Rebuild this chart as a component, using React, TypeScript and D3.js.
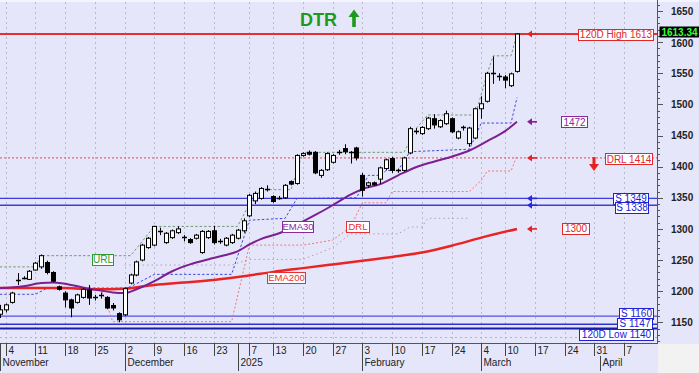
import React from 'react';
import * as d3 from 'd3';

const width = 699;
const height = 373;
const plotRight = 657;
const plotTop = 2;
const plotBottom = 343;
const font = 'Liberation Sans, Arial, sans-serif';

// one slot per trading day, slot 0 = 4 Nov, first candle sits on slot -1
const firstSlot = -1;
const opens = [1163, 1170, 1182, 1218, 1221, 1219, 1234, 1239, 1246, 1230, 1207, 1197, 1186, 1182, 1190, 1202, 1191, 1194, 1190, 1177, 1164,
  1162, 1213, 1226, 1250, 1270, 1274, 1297, 1278, 1286, 1294, 1287, 1283, 1285, 1262, 1286, 1297, 1281, 1274, 1278, 1285,
  1297, 1321, 1345, 1349, 1364, 1352, 1350, 1350, 1376, 1373, 1418, 1423, 1423, 1386, 1395, 1407, 1423, 1429, 1423, 1430,
  1386, 1370, 1374, 1380, 1397, 1413, 1394, 1394, 1422, 1458, 1453, 1461, 1477, 1464, 1469, 1477, 1446, 1463, 1437, 1446,
  1493, 1505, 1550, 1546, 1544, 1530, 1553];
const highs = [1178, 1180, 1199, 1229, 1224, 1234, 1247, 1259, 1249, 1232, 1209, 1200, 1188, 1196, 1205, 1210, 1194, 1198, 1192, 1181, 1166,
  1206, 1228, 1249, 1276, 1287, 1305, 1302, 1295, 1299, 1304, 1290, 1285, 1292, 1298, 1298, 1305, 1284, 1287, 1292, 1300,
  1317, 1356, 1360, 1367, 1370, 1354, 1353, 1372, 1378, 1420, 1423, 1426, 1425, 1396, 1423, 1420, 1427, 1436, 1425, 1432,
  1390, 1376, 1376, 1400, 1413, 1416, 1397, 1416, 1464, 1462, 1465, 1480, 1484, 1476, 1490, 1479, 1458, 1466, 1464, 1495,
  1513, 1552, 1577, 1550, 1547, 1551, 1614];
const lows = [1157, 1166, 1180, 1210, 1219, 1218, 1233, 1236, 1227, 1214, 1201, 1174, 1158, 1180, 1188, 1178, 1185, 1188, 1171, 1169, 1150,
  1160, 1211, 1224, 1248, 1268, 1272, 1290, 1276, 1284, 1292, 1280, 1276, 1283, 1260, 1284, 1275, 1276, 1272, 1276, 1283,
  1294, 1319, 1340, 1347, 1360, 1342, 1347, 1348, 1370, 1371, 1416, 1418, 1388, 1382, 1393, 1405, 1419, 1420, 1405, 1410,
  1352, 1366, 1369, 1372, 1394, 1390, 1390, 1392, 1420, 1452, 1451, 1459, 1461, 1462, 1467, 1454, 1444, 1458, 1432, 1444,
  1477, 1503, 1533, 1538, 1526, 1528, 1551];
const closes = [1170, 1178, 1197, 1216, 1221.5, 1232, 1245, 1257, 1230, 1216, 1203, 1186, 1173, 1194, 1203, 1189, 1190, 1193, 1173, 1173, 1154,
  1204, 1226, 1247, 1274, 1285, 1304, 1296, 1293, 1297, 1300, 1286, 1278, 1290, 1296, 1296, 1278, 1280, 1285, 1290, 1298,
  1313, 1354, 1357, 1365, 1363, 1344, 1349, 1370, 1372, 1418, 1421, 1420, 1390, 1394, 1421, 1418, 1422, 1424, 1422, 1414,
  1362, 1374, 1371, 1398, 1411, 1394, 1393, 1414, 1461, 1457, 1463, 1478, 1467, 1474, 1485, 1456, 1456, 1462, 1462, 1493,
  1501, 1550, 1549, 1545, 1539, 1549, 1613];

const ema30Slots = [-1, 3, 6, 8, 11, 13, 16, 18, 20, 22, 25, 28, 31, 34, 37, 39, 41, 43, 46, 49, 52, 55, 58, 60, 63, 66, 69, 72, 75, 78, 81, 84, 86];
const ema30Values = [1205, 1208, 1213, 1214, 1210, 1206, 1201, 1198, 1197, 1203, 1216, 1232, 1243, 1251, 1258, 1264, 1275, 1284, 1293, 1307, 1322, 1338, 1355, 1364, 1372, 1386, 1399, 1408, 1416, 1426, 1441, 1457, 1472];
const ema200Slots = [-1, 5, 10, 15, 20, 25, 30, 35, 40, 45, 50, 55, 60, 65, 70, 75, 80, 86];
const ema200Values = [1205, 1205, 1205, 1203, 1204, 1210, 1214, 1218, 1224, 1231, 1237, 1243, 1249, 1255, 1262, 1273, 1286, 1300];

const urlSlots = [-1, 5, 6, 21, 25, 39, 41, 43, 48, 50, 67, 69, 71, 79, 81, 82, 85, 86];
const urlValues = [1239, 1239, 1257, 1257, 1304, 1304, 1340, 1363, 1363, 1423, 1423, 1461, 1483, 1483, 1550, 1578, 1578, 1613];
const stopSlots = [-1, 5, 7, 20, 21, 25, 38, 41, 47, 49, 59, 61, 63, 64, 66, 68, 78, 80, 85, 86];
const stopValues = [1195, 1195, 1205, 1205, 1207, 1227, 1227, 1314, 1317, 1349, 1350, 1386, 1386, 1394, 1394, 1424, 1428, 1470, 1470, 1511];
const drlSlots = [16, 18, 38, 41, 50, 55, 58, 60, 64, 65, 78, 80, 81, 85, 86];
const drlValues = [1205, 1151, 1151, 1274, 1274, 1282, 1303, 1342, 1342, 1360, 1360, 1378, 1393, 1393, 1418];
const lowDotSlots = [20, 38, 41, 50, 55, 58, 66, 68, 70, 71, 78];
const lowDotValues = [1242, 1242, 1251, 1251, 1270, 1292, 1292, 1303, 1303, 1317, 1317];

const weekSlots = [0, 5, 10, 15, 20, 25, 30, 35, 41, 45, 50, 55, 60, 65, 70, 75, 80, 84, 89, 94, 99, 104];
const weekLabels = ['4', '11', '18', '25', '2', '9', '16', '23', '7', '13', '20', '27', '3', '10', '17', '24', '4', '10', '17', '24', '31', '7'];
const monthSlots = [-1, 20, 39, 60, 80, 100];
const monthLabels = ['November', 'December', '2025', 'February', 'March', 'April'];
const yTicks = [1150, 1200, 1250, 1300, 1350, 1400, 1450, 1500, 1550, 1600, 1650];

const x = d3.scaleLinear().domain([0, 104]).range([5.7, 624]);
const y = d3.scaleLinear().domain([1150, 1650]).range([322.3, 11]);

function pathOf(slots: number[], values: number[], curve: any = d3.curveLinear) {
  const line = d3.line<number>().x((d, i) => x(slots[i])).y(d => y(d)).curve(curve);
  return line(values) || '';
}

function LeftArrow({ yv, color }: { yv: number, color: string }) {
  const yy = y(yv);
  return (
    <g>
      <line x1={537} x2={530} y1={yy} y2={yy} stroke={color} strokeWidth={1.6} />
      <path d={`M527,${yy} L532,${yy - 3.5} L532,${yy + 3.5} Z`} fill={color} />
    </g>
  );
}

function Box({ x0, yc, w, text, color, size = 10 }: any) {
  return (
    <g>
      <rect x={x0 + 0.5} y={Math.round(yc - 5.5) + 0.5} width={w} height={11} fill="#fff" stroke={color} strokeWidth={1} />
      <text x={x0 + w / 2 + 0.5} y={yc + 3.8} textAnchor="middle" fill={color} fontSize={size}
        fontFamily={font}>{text}</text>
    </g>
  );
}

export default function App() {
  const minorTicks = d3.range(1120, 1661, 10);
  return (
    <div style={{ position: 'absolute', left: 0, top: 0 }}>
      <svg width={width} height={height} style={{ display: 'block' }}>
        <rect x={0} y={0} width={width} height={height} fill="#e6e6fa" />
        <rect x={0} y={0} width={width} height={plotTop} fill="#f4f4fc" />
        <rect x={plotRight + 1} y={plotBottom + 1} width={width - plotRight} height={height - plotBottom} fill="#f2f2f2" />

        {/* vertical grid */}
        {weekSlots.map((s, i) => (
          <line key={'g' + i} x1={Math.round(x(s)) + 0.5} x2={Math.round(x(s)) + 0.5} y1={plotTop} y2={plotBottom}
            stroke="#babacc" strokeDasharray="2,3" strokeWidth={1} />
        ))}
        <line x1={0} x2={plotRight} y1={337.5} y2={337.5} stroke="#b4b4c8" strokeDasharray="2,3" />

        {/* level lines */}
        <line x1={0} x2={plotRight} y1={y(1613)} y2={y(1613)} stroke="#e63030" strokeWidth={2} />
        <line x1={0} x2={plotRight} y1={y(1414)} y2={y(1414)} stroke="#e84848" strokeWidth={1} strokeDasharray="2,2" />
        <line x1={0} x2={plotRight} y1={y(1349)} y2={y(1349)} stroke="#3c3ce0" strokeWidth={1.3} />
        <line x1={0} x2={plotRight} y1={y(1338)} y2={y(1338)} stroke="#3c3ce0" strokeWidth={1.3} />
        <line x1={0} x2={plotRight} y1={y(1160)} y2={y(1160)} stroke="#5050e4" strokeWidth={1.3} />
        <line x1={0} x2={plotRight} y1={y(1147)} y2={y(1147)} stroke="#3030d8" strokeWidth={1.5} />
        <line x1={0} x2={plotRight} y1={y(1140)} y2={y(1140)} stroke="#1a1aa8" strokeWidth={2} />

        {/* step lines */}
        <path d={pathOf(lowDotSlots, lowDotValues)} fill="none" stroke="#b49cb8" strokeWidth={1} strokeDasharray="1.5,3" />
        <path d={pathOf(drlSlots, drlValues)} fill="none" stroke="#f07878" strokeWidth={1} strokeDasharray="2,2" />
        <path d={pathOf(urlSlots, urlValues)} fill="none" stroke="#6e9e6e" strokeWidth={1} strokeDasharray="2.5,2" />
        <path d={pathOf(stopSlots, stopValues)} fill="none" stroke="#4444e0" strokeWidth={1} strokeDasharray="2.5,2" />

        {/* moving averages */}
        <path d={pathOf(ema200Slots, ema200Values, d3.curveMonotoneX)} fill="none" stroke="#e82424" strokeWidth={2.5} />
        <path d={pathOf(ema30Slots, ema30Values, d3.curveMonotoneX)} fill="none" stroke="#7c1f90" strokeWidth={2} />

        {/* candles */}
        {opens.map((o, i) => {
          const c = closes[i];
          const cx = Math.round(x(firstSlot + i)) + 0.5;
          const top = y(Math.max(o, c));
          const bot = y(Math.min(o, c));
          const up = c >= o;
          return (
            <g key={'c' + i}>
              <line x1={cx} x2={cx} y1={y(highs[i])} y2={y(lows[i])} stroke="#000" strokeWidth={1} />
              {bot - top < 1.8
                ? <line x1={cx - 2.5} x2={cx + 2.5} y1={Math.round(top) + 0.5} y2={Math.round(top) + 0.5} stroke="#000" strokeWidth={1.5} />
                : <rect x={cx - 2} y={top} width={4} height={bot - top} fill={up ? '#fff' : '#000'} stroke="#000" strokeWidth={1} />}
            </g>
          );
        })}

        {/* line labels */}
        <Box x0={92} yc={259.5} w={21} text="URL" color="#2e9a2e" />
        <Box x0={282} yc={226} w={31} text="EMA30" color="#8a2a9a" size={9.5} />
        <Box x0={267} yc={277} w={38} text="EMA200" color="#e83030" size={9.5} />
        <Box x0={346} yc={226.5} w={23} text="DRL" color="#e83030" size={9.5} />

        {/* right side markers */}
        <LeftArrow yv={1613} color="#e82020" />
        <LeftArrow yv={1472} color="#8a1a9a" />
        <LeftArrow yv={1414} color="#e82020" />
        <LeftArrow yv={1349} color="#2828e0" />
        <LeftArrow yv={1338} color="#2828e0" />
        <LeftArrow yv={1300} color="#e82020" />
        <Box x0={578} yc={y(1613)} w={75} text="120D High 1613" color="#e02828" />
        <Box x0={561} yc={y(1472)} w={26} text="1472" color="#8a2a9a" />
        <Box x0={605} yc={y(1414) + 1} w={47} text="DRL 1414" color="#e02828" />
        <Box x0={562} yc={y(1300) - 0.5} w={27} text="1300" color="#e02828" />
        <Box x0={613} yc={198} w={35} text="S 1349" color="#2020d8" />
        <Box x0={615} yc={207.5} w={33} text="S 1338" color="#2020d8" />
        <Box x0={619} yc={313} w={34} text="S 1160" color="#2020d8" />
        <Box x0={617} yc={323} w={35} text="S 1147" color="#2020d8" />
        <Box x0={579} yc={334} w={74} text="120D Low 1140" color="#2020d8" />
        <path d="M589,164 L599,164 L594,171 Z" fill="#e82020" />
        <rect x={592.5} y={157} width={3} height={8} fill="#e82020" />

        {/* title */}
        <text x={300} y={26} fill="#1c9a1c" fontSize={18} fontWeight="bold" fontFamily={font}>DTR</text>
        <path d="M354,9.5 L348.5,17 L359.5,17 Z" fill="#1c9a1c" />
        <rect x={352.2} y={16.5} width={3.6} height={10.5} fill="#1c9a1c" />

        {/* right axis */}
        <line x1={plotRight + 0.5} x2={plotRight + 0.5} y1={0} y2={plotBottom + 1} stroke="#555" />
        {minorTicks.map(v => (
          <line key={'m' + v} x1={plotRight} x2={plotRight + (v % 50 === 0 ? 6 : 3)} y1={Math.round(y(v)) + 0.5} y2={Math.round(y(v)) + 0.5} stroke="#555" />
        ))}
        {yTicks.map(v => (
          <text key={'t' + v} x={671} y={y(v) + 3.6 + (v === 1600 ? 1 : 0)} fontSize={10} fontWeight="bold" fill="#222" fontFamily={font}>{v}</text>
        ))}
        <rect x={659.5} y={26.5} width={40} height={11} fill="#000" />
        <text x={679.5} y={35.6} textAnchor="middle" fontSize={10} fontWeight="bold" fill="#39ff39" fontFamily={font}>1613.34</text>

        {/* bottom axis */}
        <line x1={0} x2={plotRight} y1={plotBottom + 0.5} y2={plotBottom + 0.5} stroke="#555" />
        <line x1={0.5} x2={0.5} y1={plotBottom} y2={356} stroke="#444" />
        {weekSlots.map((s, i) => {
          const xx = Math.round(x(s)) + 0.5;
          return (
            <g key={'w' + i}>
              <line x1={xx} x2={xx} y1={plotBottom} y2={356} stroke="#444" />
              <text x={xx + 2} y={354} fontSize={10} fill="#222" fontFamily={font}>{weekLabels[i]}</text>
            </g>
          );
        })}
        <line x1={Math.round(x(39)) + 0.5} x2={Math.round(x(39)) + 0.5} y1={plotBottom} y2={356} stroke="#444" />
        {monthSlots.map((s, i) => {
          const xx = Math.max(0.5, Math.round(x(s)) + 0.5);
          return (
            <g key={'mo' + i}>
              <line x1={xx} x2={xx} y1={356} y2={371} stroke="#444" />
              <text x={xx + 2} y={366} fontSize={10} fill="#222" fontFamily={font}>{monthLabels[i]}</text>
            </g>
          );
        })}
      </svg>
    </div>
  );
}
